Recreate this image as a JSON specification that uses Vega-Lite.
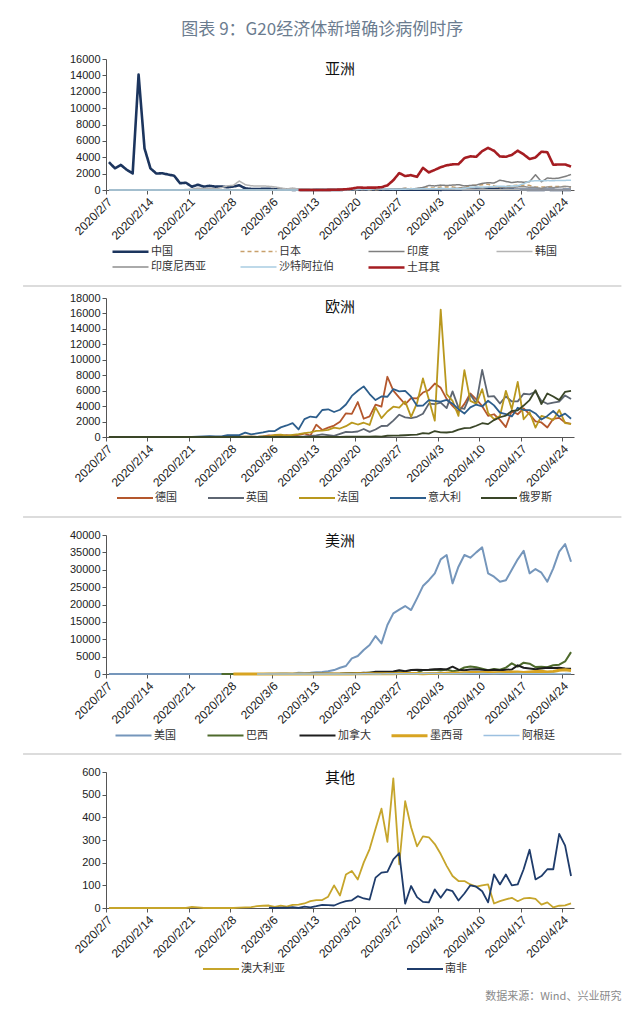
{
"$schema":"https://vega.github.io/schema/vega-lite/v6.json",
"background":"white",
"padding":{"left":22,"top":21,"right":5,"bottom":5},
"title":{"text":"图表 9：G20经济体新增确诊病例时序","fontSize":17,"color":"#6b7c8f","font":"Noto Sans CJK SC","fontWeight":"normal","anchor":"middle","offset":14},
"resolve":{"scale":{"color":"independent","strokeDash":"independent","strokeWidth":"independent"},"legend":{"color":"independent","strokeDash":"independent","strokeWidth":"independent"}},
"config":{
 "font":"Liberation Sans",
 "view":{"stroke":null},
 "axis":{"grid":false,"domainColor":"#555","tickColor":"#555","labelColor":"#222","labelFontSize":11,"tickSize":4,"labelFont":"Liberation Sans"},
 "axisX":{"labelAngle":-45,"labelPadding":2,"labelFlush":false,"labelOverlap":false,"labelFontSize":12},
 "legend":{"orient":"bottom","direction":"horizontal","symbolType":"M-3,0H3","symbolSize":144,"labelFont":"Noto Sans CJK SC","labelFontSize":11,"labelColor":"#333","gridAlign":"all","rowPadding":3,"labelOffset":13,"padding":0,"offset":2,"layout":{"bottom":{"anchor":"middle","bounds":"full"}}},
 "concat":{"spacing":12},
 "line":{"strokeJoin":"round"}
},
"datasets":{
"asia":[
{"d":"2020/2/7","中国":3399,"日本":0,"印度":0,"韩国":1,"印度尼西亚":0,"沙特阿拉伯":0},
{"d":"2020/2/8","中国":2656,"日本":0,"印度":0,"韩国":0,"印度尼西亚":0,"沙特阿拉伯":0},
{"d":"2020/2/9","中国":3062,"日本":0,"印度":0,"韩国":3,"印度尼西亚":0,"沙特阿拉伯":0},
{"d":"2020/2/10","中国":2478,"日本":0,"印度":0,"韩国":0,"印度尼西亚":0,"沙特阿拉伯":0},
{"d":"2020/2/11","中国":2015,"日本":1,"印度":0,"韩国":0,"印度尼西亚":0,"沙特阿拉伯":0},
{"d":"2020/2/12","中国":14108,"日本":0,"印度":0,"韩国":0,"印度尼西亚":0,"沙特阿拉伯":0},
{"d":"2020/2/13","中国":5090,"日本":4,"印度":0,"韩国":0,"印度尼西亚":0,"沙特阿拉伯":0},
{"d":"2020/2/14","中国":2641,"日本":8,"印度":0,"韩国":0,"印度尼西亚":0,"沙特阿拉伯":0},
{"d":"2020/2/15","中国":2009,"日本":12,"印度":0,"韩国":0,"印度尼西亚":0,"沙特阿拉伯":0},
{"d":"2020/2/16","中国":2048,"日本":6,"印度":0,"韩国":1,"印度尼西亚":0,"沙特阿拉伯":0},
{"d":"2020/2/17","中国":1886,"日本":6,"印度":0,"韩国":1,"印度尼西亚":0,"沙特阿拉伯":0},
{"d":"2020/2/18","中国":1749,"日本":6,"印度":0,"韩国":1,"印度尼西亚":0,"沙特阿拉伯":0},
{"d":"2020/2/19","中国":820,"日本":3,"印度":0,"韩国":20,"印度尼西亚":0,"沙特阿拉伯":0},
{"d":"2020/2/20","中国":889,"日本":11,"印度":0,"韩国":53,"印度尼西亚":0,"沙特阿拉伯":0},
{"d":"2020/2/21","中国":397,"日本":10,"印度":0,"韩国":100,"印度尼西亚":0,"沙特阿拉伯":0},
{"d":"2020/2/22","中国":648,"日本":12,"印度":0,"韩国":229,"印度尼西亚":0,"沙特阿拉伯":0},
{"d":"2020/2/23","中国":409,"日本":15,"印度":0,"韩国":169,"印度尼西亚":0,"沙特阿拉伯":0},
{"d":"2020/2/24","中国":508,"日本":10,"印度":0,"韩国":231,"印度尼西亚":0,"沙特阿拉伯":0},
{"d":"2020/2/25","中国":406,"日本":13,"印度":0,"韩国":144,"印度尼西亚":0,"沙特阿拉伯":0},
{"d":"2020/2/26","中国":433,"日本":25,"印度":0,"韩国":284,"印度尼西亚":0,"沙特阿拉伯":0},
{"d":"2020/2/27","中国":327,"日本":21,"印度":0,"韩国":505,"印度尼西亚":0,"沙特阿拉伯":0},
{"d":"2020/2/28","中国":427,"日本":24,"印度":0,"韩国":571,"印度尼西亚":0,"沙特阿拉伯":0},
{"d":"2020/2/29","中国":573,"日本":15,"印度":0,"韩国":1100,"印度尼西亚":0,"沙特阿拉伯":0},
{"d":"2020/3/1","中国":202,"日本":14,"印度":0,"韩国":650,"印度尼西亚":0,"沙特阿拉伯":0},
{"d":"2020/3/2","中国":125,"日本":16,"印度":2,"韩国":520,"印度尼西亚":2,"沙特阿拉伯":0},
{"d":"2020/3/3","中国":119,"日本":14,"印度":1,"韩国":480,"印度尼西亚":0,"沙特阿拉伯":1},
{"d":"2020/3/4","中国":139,"日本":33,"印度":22,"韩国":500,"印度尼西亚":0,"沙特阿拉伯":0},
{"d":"2020/3/5","中国":143,"日本":32,"印度":2,"韩国":450,"印度尼西亚":0,"沙特阿拉伯":0},
{"d":"2020/3/6","中国":99,"日本":59,"印度":1,"韩国":380,"印度尼西亚":2,"沙特阿拉伯":4},
{"d":"2020/3/7","中国":44,"日本":47,"印度":3,"韩国":250,"印度尼西亚":0,"沙特阿拉伯":0},
{"d":"2020/3/8","中国":40,"日本":33,"印度":5,"韩国":130,"印度尼西亚":2,"沙特阿拉伯":6},
{"d":"2020/3/9","中国":19,"日本":26,"印度":4,"韩国":240,"印度尼西亚":13,"沙特阿拉伯":4},
{"d":"2020/3/10","中国":24,"日本":54,"印度":4,"韩国":114,"印度尼西亚":8,"沙特阿拉伯":5,"土耳其":0},
{"d":"2020/3/11","中国":15,"日本":52,"印度":12,"韩国":110,"印度尼西亚":7,"沙特阿拉伯":24,"土耳其":1},
{"d":"2020/3/12","中国":8,"日本":55,"印度":13,"韩国":107,"印度尼西亚":0,"沙特阿拉伯":0,"土耳其":0},
{"d":"2020/3/13","中国":11,"日本":41,"印度":14,"韩国":76,"印度尼西亚":35,"沙特阿拉伯":41,"土耳其":4},
{"d":"2020/3/14","中国":20,"日本":64,"印度":20,"韩国":74,"印度尼西亚":27,"沙特阿拉伯":17,"土耳其":0},
{"d":"2020/3/15","中国":16,"日本":34,"印度":26,"韩国":84,"印度尼西亚":21,"沙特阿拉伯":15,"土耳其":12},
{"d":"2020/3/16","中国":21,"日本":15,"印度":15,"韩国":93,"印度尼西亚":17,"沙特阿拉伯":38,"土耳其":29},
{"d":"2020/3/17","中国":13,"日本":44,"印度":28,"韩国":152,"印度尼西亚":38,"沙特阿拉伯":67,"土耳其":51},
{"d":"2020/3/18","中国":34,"日本":39,"印度":25,"韩国":87,"印度尼西亚":55,"沙特阿拉伯":36,"土耳其":93},
{"d":"2020/3/19","中国":39,"日本":35,"印度":44,"韩国":147,"印度尼西亚":82,"沙特阿拉伯":70,"土耳其":168},
{"d":"2020/3/20","中国":41,"日本":52,"印度":60,"韩国":98,"印度尼西亚":60,"沙特阿拉伯":70,"土耳其":311},
{"d":"2020/3/21","中国":46,"日本":52,"印度":80,"韩国":64,"印度尼西亚":81,"沙特阿拉伯":119,"土耳其":277},
{"d":"2020/3/22","中国":39,"日本":43,"印度":95,"韩国":76,"印度尼西亚":64,"沙特阿拉伯":51,"土耳其":289},
{"d":"2020/3/23","中国":78,"日本":39,"印度":100,"韩国":100,"印度尼西亚":65,"沙特阿拉伯":205,"土耳其":293},
{"d":"2020/3/24","中国":47,"日本":65,"印度":82,"韩国":104,"印度尼西亚":107,"沙特阿拉伯":133,"土耳其":343},
{"d":"2020/3/25","中国":67,"日本":96,"印度":95,"韩国":91,"印度尼西亚":105,"沙特阿拉伯":112,"土耳其":561},
{"d":"2020/3/26","中国":55,"日本":94,"印度":75,"韩国":146,"印度尼西亚":103,"沙特阿拉伯":92,"土耳其":1196},
{"d":"2020/3/27","中国":54,"日本":112,"印度":150,"韩国":105,"印度尼西亚":153,"沙特阿拉伯":99,"土耳其":2069},
{"d":"2020/3/28","中国":45,"日本":200,"印度":180,"韩国":78,"印度尼西亚":109,"沙特阿拉伯":96,"土耳其":1704},
{"d":"2020/3/29","中国":31,"日本":173,"印度":100,"韩国":125,"印度尼西亚":130,"沙特阿拉伯":154,"土耳其":1815},
{"d":"2020/3/30","中国":48,"日本":87,"印度":200,"韩国":101,"印度尼西亚":129,"沙特阿拉伯":110,"土耳其":1610},
{"d":"2020/3/31","中国":36,"日本":220,"印度":300,"韩国":89,"印度尼西亚":114,"沙特阿拉伯":157,"土耳其":2704},
{"d":"2020/4/1","中国":35,"日本":266,"印度":550,"韩国":86,"印度尼西亚":149,"沙特阿拉伯":165,"土耳其":2148},
{"d":"2020/4/2","中国":31,"日本":235,"印度":500,"韩国":94,"印度尼西亚":113,"沙特阿拉伯":140,"土耳其":2456},
{"d":"2020/4/3","中国":19,"日本":353,"印度":600,"韩国":81,"印度尼西亚":196,"沙特阿拉伯":206,"土耳其":2786},
{"d":"2020/4/4","中国":30,"日本":367,"印度":550,"韩国":47,"印度尼西亚":106,"沙特阿拉伯":138,"土耳其":3013},
{"d":"2020/4/5","中国":39,"日本":383,"印度":600,"韩国":47,"印度尼西亚":181,"沙特阿拉伯":190,"土耳其":3135},
{"d":"2020/4/6","中国":32,"日本":252,"印度":650,"韩国":53,"印度尼西亚":218,"沙特阿拉伯":140,"土耳其":3148},
{"d":"2020/4/7","中国":62,"日本":351,"印度":500,"韩国":39,"印度尼西亚":247,"沙特阿拉伯":190,"土耳其":3892},
{"d":"2020/4/8","中国":63,"日本":515,"印度":550,"韩国":27,"印度尼西亚":218,"沙特阿拉伯":327,"土耳其":4117},
{"d":"2020/4/9","中国":42,"日本":576,"印度":600,"韩国":30,"印度尼西亚":337,"沙特阿拉伯":355,"土耳其":4056},
{"d":"2020/4/10","中国":46,"日本":644,"印度":800,"韩国":32,"印度尼西亚":219,"沙特阿拉伯":364,"土耳其":4747},
{"d":"2020/4/11","中国":99,"日本":714,"印度":900,"韩国":25,"印度尼西亚":330,"沙特阿拉伯":382,"土耳其":5138},
{"d":"2020/4/12","中国":108,"日本":507,"印度":850,"韩国":27,"印度尼西亚":399,"沙特阿拉伯":429,"土耳其":4789},
{"d":"2020/4/13","中国":89,"日本":283,"印度":1200,"韩国":27,"印度尼西亚":316,"沙特阿拉伯":472,"土耳其":4093},
{"d":"2020/4/14","中国":46,"日本":457,"印度":1050,"韩国":22,"印度尼西亚":282,"沙特阿拉伯":435,"土耳其":4062},
{"d":"2020/4/15","中国":46,"日本":549,"印度":900,"韩国":22,"印度尼西亚":297,"沙特阿拉伯":493,"土耳其":4281},
{"d":"2020/4/16","中国":26,"日本":587,"印度":1000,"韩国":18,"印度尼西亚":380,"沙特阿拉伯":518,"土耳其":4801},
{"d":"2020/4/17","中国":27,"日本":576,"印度":950,"韩国":8,"印度尼西亚":407,"沙特阿拉伯":762,"土耳其":4353},
{"d":"2020/4/18","中国":16,"日本":568,"印度":1000,"韩国":13,"印度尼西亚":325,"沙特阿拉伯":1088,"土耳其":3783},
{"d":"2020/4/19","中国":12,"日本":351,"印度":1870,"韩国":9,"印度尼西亚":327,"沙特阿拉伯":1122,"土耳其":3977},
{"d":"2020/4/20","中国":11,"日本":363,"印度":1000,"韩国":11,"印度尼西亚":185,"沙特阿拉伯":1132,"土耳其":4674},
{"d":"2020/4/21","中国":30,"日本":376,"印度":1460,"韩国":8,"印度尼西亚":375,"沙特阿拉伯":1147,"土耳其":4611},
{"d":"2020/4/22","中国":10,"日本":450,"印度":1400,"韩国":6,"印度尼西亚":283,"沙特阿拉伯":1141,"土耳其":3083},
{"d":"2020/4/23","中国":6,"日本":422,"印度":1460,"韩国":10,"印度尼西亚":357,"沙特阿拉伯":1158,"土耳其":3116},
{"d":"2020/4/24","中国":12,"日本":440,"印度":1650,"韩国":10,"印度尼西亚":436,"沙特阿拉伯":1172,"土耳其":3122},
{"d":"2020/4/25","中国":11,"日本":345,"印度":1900,"韩国":10,"印度尼西亚":396,"沙特阿拉伯":1197,"土耳其":2861}
],
"europe":[
{"d":"2020/2/7","德国":1,"英国":0,"法国":0,"意大利":0,"俄罗斯":0},
{"d":"2020/2/8","德国":0,"英国":0,"法国":0,"意大利":0,"俄罗斯":0},
{"d":"2020/2/9","德国":0,"英国":0,"法国":0,"意大利":0,"俄罗斯":0},
{"d":"2020/2/10","德国":0,"英国":0,"法国":0,"意大利":0,"俄罗斯":0},
{"d":"2020/2/11","德国":0,"英国":0,"法国":0,"意大利":0,"俄罗斯":0},
{"d":"2020/2/12","德国":0,"英国":0,"法国":0,"意大利":0,"俄罗斯":0},
{"d":"2020/2/13","德国":0,"英国":0,"法国":0,"意大利":0,"俄罗斯":0},
{"d":"2020/2/14","德国":0,"英国":0,"法国":0,"意大利":0,"俄罗斯":0},
{"d":"2020/2/15","德国":0,"英国":0,"法国":0,"意大利":0,"俄罗斯":0},
{"d":"2020/2/16","德国":0,"英国":0,"法国":0,"意大利":0,"俄罗斯":0},
{"d":"2020/2/17","德国":0,"英国":0,"法国":0,"意大利":0,"俄罗斯":0},
{"d":"2020/2/18","德国":0,"英国":0,"法国":0,"意大利":0,"俄罗斯":0},
{"d":"2020/2/19","德国":0,"英国":0,"法国":0,"意大利":0,"俄罗斯":0},
{"d":"2020/2/20","德国":0,"英国":0,"法国":0,"意大利":0,"俄罗斯":0},
{"d":"2020/2/21","德国":0,"英国":0,"法国":0,"意大利":17,"俄罗斯":0},
{"d":"2020/2/22","德国":0,"英国":0,"法国":0,"意大利":59,"俄罗斯":0},
{"d":"2020/2/23","德国":0,"英国":0,"法国":0,"意大利":76,"俄罗斯":0},
{"d":"2020/2/24","德国":0,"英国":0,"法国":0,"意大利":95,"俄罗斯":0},
{"d":"2020/2/25","德国":2,"英国":0,"法国":0,"意大利":93,"俄罗斯":0},
{"d":"2020/2/26","德国":6,"英国":0,"法国":4,"意大利":78,"俄罗斯":0},
{"d":"2020/2/27","德国":28,"英国":2,"法国":20,"意大利":250,"俄罗斯":0},
{"d":"2020/2/28","德国":21,"英国":0,"法国":19,"意大利":238,"俄罗斯":0},
{"d":"2020/2/29","德国":13,"英国":3,"法国":43,"意大利":240,"俄罗斯":0},
{"d":"2020/3/1","德国":57,"英国":12,"法国":30,"意大利":566,"俄罗斯":0},
{"d":"2020/3/2","德国":30,"英国":4,"法国":61,"意大利":342,"俄罗斯":0},
{"d":"2020/3/3","德国":29,"英国":11,"法国":13,"意大利":466,"俄罗斯":0},
{"d":"2020/3/4","德国":66,"英国":34,"法国":81,"意大利":587,"俄罗斯":0},
{"d":"2020/3/5","德国":220,"英国":30,"法国":92,"意大利":769,"俄罗斯":0},
{"d":"2020/3/6","德国":188,"英国":48,"法国":276,"意大利":778,"俄罗斯":0},
{"d":"2020/3/7","德国":129,"英国":43,"法国":296,"意大利":1247,"俄罗斯":0},
{"d":"2020/3/8","德国":241,"英国":67,"法国":177,"意大利":1492,"俄罗斯":0},
{"d":"2020/3/9","德国":136,"英国":48,"法国":286,"意大利":1797,"俄罗斯":0},
{"d":"2020/3/10","德国":281,"英国":61,"法国":372,"意大利":977,"俄罗斯":0},
{"d":"2020/3/11","德国":451,"英国":83,"法国":497,"意大利":2313,"俄罗斯":8},
{"d":"2020/3/12","德国":170,"英国":134,"法国":595,"意大利":2651,"俄罗斯":6},
{"d":"2020/3/13","德国":1597,"英国":208,"法国":785,"意大利":2547,"俄罗斯":17},
{"d":"2020/3/14","德国":910,"英国":342,"法国":838,"意大利":3497,"俄罗斯":4},
{"d":"2020/3/15","德国":1210,"英国":251,"法国":924,"意大利":3590,"俄罗斯":31},
{"d":"2020/3/16","德国":1477,"英国":152,"法国":1210,"意大利":3233,"俄罗斯":27},
{"d":"2020/3/17","德国":1985,"英国":407,"法国":1097,"意大利":3526,"俄罗斯":21},
{"d":"2020/3/18","德国":3070,"英国":676,"法国":1404,"意大利":4207,"俄罗斯":33},
{"d":"2020/3/19","德国":2993,"英国":643,"法国":1861,"意大利":5322,"俄罗斯":52},
{"d":"2020/3/20","德国":4528,"英国":714,"法国":1617,"意大利":5986,"俄罗斯":54},
{"d":"2020/3/21","德国":2365,"英国":1035,"法国":1847,"意大利":6557,"俄罗斯":53},
{"d":"2020/3/22","德国":2660,"英国":665,"法国":1559,"意大利":5560,"俄罗斯":61},
{"d":"2020/3/23","德国":4183,"英国":967,"法国":3838,"意大利":4789,"俄罗斯":71},
{"d":"2020/3/24","德国":3930,"英国":1427,"法国":2446,"意大利":5249,"俄罗斯":57},
{"d":"2020/3/25","德国":7800,"英国":1452,"法国":3300,"意大利":5210,"俄罗斯":163},
{"d":"2020/3/26","德国":6000,"英国":2129,"法国":3922,"意大利":6203,"俄罗斯":182},
{"d":"2020/3/27","德国":5100,"英国":2885,"法国":3809,"意大利":5909,"俄罗斯":196},
{"d":"2020/3/28","德国":4240,"英国":2546,"法国":4611,"意大利":5974,"俄罗斯":228},
{"d":"2020/3/29","德国":5020,"英国":2433,"法国":2599,"意大利":5217,"俄罗斯":270},
{"d":"2020/3/30","德国":5000,"英国":2619,"法国":4376,"意大利":4050,"俄罗斯":302},
{"d":"2020/3/31","德国":5760,"英国":3009,"法国":7578,"意大利":4053,"俄罗斯":501},
{"d":"2020/4/1","德国":6064,"英国":4324,"法国":4861,"意大利":4782,"俄罗斯":440},
{"d":"2020/4/2","德国":6922,"英国":4244,"法国":2116,"意大利":4668,"俄罗斯":771},
{"d":"2020/4/3","德国":6365,"英国":4450,"法国":16500,"意大利":4585,"俄罗斯":601},
{"d":"2020/4/4","德国":4933,"英国":3735,"法国":5540,"意大利":4805,"俄罗斯":582},
{"d":"2020/4/5","德国":4031,"英国":5903,"法国":4680,"意大利":4316,"俄罗斯":658},
{"d":"2020/4/6","德国":3251,"英国":3802,"法国":2730,"意大利":3599,"俄罗斯":954},
{"d":"2020/4/7","德国":4289,"英国":3634,"法国":8660,"意大利":3039,"俄罗斯":1154},
{"d":"2020/4/8","德国":5633,"英国":5491,"法国":4680,"意大利":3836,"俄罗斯":1175},
{"d":"2020/4/9","德国":4885,"英国":4344,"法国":4300,"意大利":4204,"俄罗斯":1459},
{"d":"2020/4/10","德国":3990,"英国":8681,"法国":6200,"意大利":3951,"俄罗斯":1786},
{"d":"2020/4/11","德国":2737,"英国":5233,"法国":3100,"意大利":4694,"俄罗斯":1667},
{"d":"2020/4/12","德国":2946,"英国":5288,"法国":2300,"意大利":4092,"俄罗斯":2186},
{"d":"2020/4/13","德国":2218,"英国":4342,"法国":2700,"意大利":3153,"俄罗斯":2558},
{"d":"2020/4/14","德国":1287,"英国":5252,"法国":5980,"意大利":2972,"俄罗斯":2774},
{"d":"2020/4/15","德国":3394,"英国":4603,"法国":3600,"意大利":2667,"俄罗斯":3388},
{"d":"2020/4/16","德国":2945,"英国":4617,"法国":7140,"意大利":3786,"俄罗斯":3448},
{"d":"2020/4/17","德国":3699,"英国":5599,"法国":2300,"意大利":3493,"俄罗斯":4070},
{"d":"2020/4/18","德国":2945,"英国":5525,"法国":3200,"意大利":3491,"俄罗斯":4785},
{"d":"2020/4/19","德国":2018,"英国":5850,"法国":1210,"意大利":3047,"俄罗斯":6060},
{"d":"2020/4/20","德国":1881,"英国":4676,"法国":2730,"意大利":2256,"俄罗斯":4268},
{"d":"2020/4/21","德国":1226,"英国":4301,"法国":2500,"意大利":2729,"俄罗斯":5642},
{"d":"2020/4/22","德国":2357,"英国":4451,"法国":2200,"意大利":3370,"俄罗斯":5236},
{"d":"2020/4/23","德国":2481,"英国":4583,"法国":3500,"意大利":2646,"俄罗斯":4774},
{"d":"2020/4/24","德国":1870,"英国":5386,"法国":1800,"意大利":3021,"俄罗斯":5849},
{"d":"2020/4/25","德国":1700,"英国":4913,"法国":1700,"意大利":2357,"俄罗斯":5966}
],
"americas":[
{"d":"2020/2/7","美国":1},
{"d":"2020/2/8","美国":0},
{"d":"2020/2/9","美国":0},
{"d":"2020/2/10","美国":1},
{"d":"2020/2/11","美国":0},
{"d":"2020/2/12","美国":0},
{"d":"2020/2/13","美国":0},
{"d":"2020/2/14","美国":0},
{"d":"2020/2/15","美国":0},
{"d":"2020/2/16","美国":0},
{"d":"2020/2/17","美国":0},
{"d":"2020/2/18","美国":0},
{"d":"2020/2/19","美国":0},
{"d":"2020/2/20","美国":0},
{"d":"2020/2/21","美国":2},
{"d":"2020/2/22","美国":0},
{"d":"2020/2/23","美国":0},
{"d":"2020/2/24","美国":0},
{"d":"2020/2/25","美国":0},
{"d":"2020/2/26","美国":0,"巴西":1},
{"d":"2020/2/27","美国":0,"巴西":0},
{"d":"2020/2/28","美国":1,"巴西":0,"墨西哥":1},
{"d":"2020/2/29","美国":6,"巴西":1,"墨西哥":3},
{"d":"2020/3/1","美国":7,"巴西":0,"墨西哥":1},
{"d":"2020/3/2","美国":23,"巴西":1,"墨西哥":0},
{"d":"2020/3/3","美国":20,"巴西":0,"墨西哥":0,"阿根廷":1},
{"d":"2020/3/4","美国":31,"巴西":0,"墨西哥":0,"阿根廷":0},
{"d":"2020/3/5","美国":68,"巴西":0,"加拿大":8,"墨西哥":0,"阿根廷":0},
{"d":"2020/3/6","美国":45,"巴西":10,"加拿大":5,"墨西哥":1,"阿根廷":1},
{"d":"2020/3/7","美国":140,"巴西":6,"加拿大":6,"墨西哥":0,"阿根廷":6},
{"d":"2020/3/8","美国":116,"巴西":5,"加拿大":6,"墨西哥":0,"阿根廷":0},
{"d":"2020/3/9","美国":65,"巴西":5,"加拿大":4,"墨西哥":0,"阿根廷":5},
{"d":"2020/3/10","美国":376,"巴西":9,"加拿大":16,"墨西哥":0,"阿根廷":5},
{"d":"2020/3/11","美国":322,"巴西":18,"加拿大":24,"墨西哥":4,"阿根廷":2},
{"d":"2020/3/12","美国":382,"巴西":25,"加拿大":41,"墨西哥":4,"阿根廷":12},
{"d":"2020/3/13","美国":516,"巴西":21,"加拿大":55,"墨西哥":0,"阿根廷":3},
{"d":"2020/3/14","美国":548,"巴西":23,"加拿大":54,"墨西哥":14,"阿根廷":11},
{"d":"2020/3/15","美国":772,"巴西":79,"加拿大":56,"墨西哥":15,"阿根廷":11},
{"d":"2020/3/16","美国":1133,"巴西":34,"加拿大":97,"墨西哥":29,"阿根廷":9},
{"d":"2020/3/17","美国":1789,"巴西":57,"加拿大":103,"墨西哥":11,"阿根廷":14},
{"d":"2020/3/18","美国":2300,"巴西":137,"加拿大":126,"墨西哥":26,"阿根廷":14},
{"d":"2020/3/19","美国":4500,"巴西":193,"加拿大":167,"墨西哥":25,"阿根廷":31},
{"d":"2020/3/20","美国":5180,"巴西":283,"加拿大":196,"墨西哥":46,"阿根廷":30},
{"d":"2020/3/21","美国":6900,"巴西":224,"加拿大":341,"墨西哥":39,"阿根廷":67},
{"d":"2020/3/22","美国":8340,"巴西":418,"加拿大":289,"墨西哥":48,"阿根廷":41},
{"d":"2020/3/23","美国":10930,"巴西":345,"加拿大":662,"墨西哥":65,"阿根廷":35},
{"d":"2020/3/24","美国":8820,"巴西":310,"加拿大":613,"墨西哥":51,"阿根廷":36},
{"d":"2020/3/25","美国":14100,"巴西":232,"加拿大":622,"墨西哥":38,"阿根廷":86},
{"d":"2020/3/26","美国":17450,"巴西":482,"加拿大":738,"墨西哥":70,"阿根廷":87},
{"d":"2020/3/27","美国":18500,"巴西":502,"加拿大":1104,"墨西哥":110,"阿根廷":101},
{"d":"2020/3/28","美国":19560,"巴西":487,"加拿大":769,"墨西哥":132,"阿根廷":55},
{"d":"2020/3/29","美国":18400,"巴西":352,"加拿大":1123,"墨西哥":131,"阿根廷":75},
{"d":"2020/3/30","美国":21770,"巴西":323,"加拿大":1201,"墨西哥":145,"阿根廷":63},
{"d":"2020/3/31","美国":25300,"巴西":1138,"加拿大":1149,"墨西哥":101,"阿根廷":146},
{"d":"2020/4/1","美国":27000,"巴西":1119,"加拿大":1233,"墨西哥":121,"阿根廷":167},
{"d":"2020/4/2","美国":28960,"巴西":1208,"加拿大":1383,"墨西哥":163,"阿根廷":115},
{"d":"2020/4/3","美国":33000,"巴西":1012,"加拿大":1416,"墨西哥":178,"阿根廷":79},
{"d":"2020/4/4","美国":34240,"巴西":1304,"加拿大":1311,"墨西哥":252,"阿根廷":102},
{"d":"2020/4/5","美国":26080,"巴西":770,"加拿大":2100,"墨西哥":202,"阿根廷":90},
{"d":"2020/4/6","美国":30880,"巴西":1031,"加拿大":1250,"墨西哥":296,"阿根廷":75},
{"d":"2020/4/7","美国":34240,"巴西":1873,"加拿大":1100,"墨西哥":338,"阿根廷":141},
{"d":"2020/4/8","美国":33470,"巴西":2136,"加拿大":1300,"墨西哥":396,"阿根廷":98},
{"d":"2020/4/9","美国":35000,"巴西":1922,"加拿大":1400,"墨西哥":420,"阿根廷":87},
{"d":"2020/4/10","美国":36440,"巴西":1546,"加拿大":1200,"墨西哥":450,"阿根廷":119},
{"d":"2020/4/11","美国":28960,"巴西":1089,"加拿大":1100,"墨西哥":442,"阿根廷":81},
{"d":"2020/4/12","美国":28000,"巴西":1465,"加拿大":1200,"墨西哥":353,"阿根廷":69},
{"d":"2020/4/13","美国":26560,"巴西":1238,"加拿大":1100,"墨西哥":450,"阿根廷":140},
{"d":"2020/4/14","美国":27000,"巴西":1832,"加拿大":1200,"墨西哥":500,"阿根廷":61},
{"d":"2020/4/15","美国":30000,"巴西":3058,"加拿大":1300,"墨西哥":600,"阿根廷":105},
{"d":"2020/4/16","美国":33000,"巴西":2105,"加拿大":2500,"墨西哥":550,"阿根廷":111},
{"d":"2020/4/17","美国":35480,"巴西":3257,"加拿大":1800,"墨西哥":450,"阿根廷":69},
{"d":"2020/4/18","美国":28960,"巴西":2976,"加拿大":1600,"墨西哥":600,"阿根廷":79},
{"d":"2020/4/19","美国":30200,"巴西":1996,"加拿大":1400,"墨西哥":750,"阿根廷":85},
{"d":"2020/4/20","美国":29150,"巴西":2089,"加拿大":1600,"墨西哥":760,"阿根廷":102},
{"d":"2020/4/21","美国":26560,"巴西":1927,"加拿大":1800,"墨西哥":600,"阿根廷":100},
{"d":"2020/4/22","美国":30400,"巴西":2498,"加拿大":1700,"墨西哥":730,"阿根廷":145},
{"d":"2020/4/23","美国":35200,"巴西":2678,"加拿大":1800,"墨西哥":1100,"阿根廷":100},
{"d":"2020/4/24","美国":37400,"巴西":3600,"加拿大":1600,"墨西哥":1200,"阿根廷":111},
{"d":"2020/4/25","美国":32300,"巴西":6300,"加拿大":1500,"墨西哥":1000,"阿根廷":172}
],
"other":[
{"d":"2020/2/7","澳大利亚":0},{"d":"2020/2/8","澳大利亚":0},{"d":"2020/2/9","澳大利亚":0},{"d":"2020/2/10","澳大利亚":0},
{"d":"2020/2/11","澳大利亚":0},{"d":"2020/2/12","澳大利亚":0},{"d":"2020/2/13","澳大利亚":0},{"d":"2020/2/14","澳大利亚":0},
{"d":"2020/2/15","澳大利亚":0},{"d":"2020/2/16","澳大利亚":0},{"d":"2020/2/17","澳大利亚":0},{"d":"2020/2/18","澳大利亚":0},
{"d":"2020/2/19","澳大利亚":0},{"d":"2020/2/20","澳大利亚":0},{"d":"2020/2/21","澳大利亚":5},{"d":"2020/2/22","澳大利亚":3},
{"d":"2020/2/23","澳大利亚":0},{"d":"2020/2/24","澳大利亚":0},{"d":"2020/2/25","澳大利亚":0},{"d":"2020/2/26","澳大利亚":0},
{"d":"2020/2/27","澳大利亚":0},{"d":"2020/2/28","澳大利亚":0},{"d":"2020/2/29","澳大利亚":2},{"d":"2020/3/1","澳大利亚":3},
{"d":"2020/3/2","澳大利亚":4},{"d":"2020/3/3","澳大利亚":8},{"d":"2020/3/4","澳大利亚":10},
{"d":"2020/3/5","澳大利亚":11,"南非":1},{"d":"2020/3/6","澳大利亚":5,"南非":0},{"d":"2020/3/7","澳大利亚":10,"南非":1},
{"d":"2020/3/8","澳大利亚":6,"南非":1},{"d":"2020/3/9","澳大利亚":14,"南非":4},{"d":"2020/3/10","澳大利亚":15,"南非":0},
{"d":"2020/3/11","澳大利亚":20,"南非":6},{"d":"2020/3/12","澳大利亚":30,"南非":3},{"d":"2020/3/13","澳大利亚":35,"南非":8},
{"d":"2020/3/14","澳大利亚":35,"南非":14},{"d":"2020/3/15","澳大利亚":50,"南非":13},{"d":"2020/3/16","澳大利亚":100,"南非":11},
{"d":"2020/3/17","澳大利亚":55,"南非":22},{"d":"2020/3/18","澳大利亚":148,"南非":30},{"d":"2020/3/19","澳大利亚":163,"南非":34},
{"d":"2020/3/20","澳大利亚":126,"南非":52},{"d":"2020/3/21","澳大利亚":200,"南非":42},{"d":"2020/3/22","澳大利亚":260,"南非":37},
{"d":"2020/3/23","澳大利亚":350,"南非":134},{"d":"2020/3/24","澳大利亚":438,"南非":156},{"d":"2020/3/25","澳大利亚":292,"南非":159},
{"d":"2020/3/26","澳大利亚":572,"南非":215},{"d":"2020/3/27","澳大利亚":193,"南非":242},{"d":"2020/3/28","澳大利亚":471,"南非":19},
{"d":"2020/3/29","澳大利亚":356,"南非":97},{"d":"2020/3/30","澳大利亚":272,"南非":48},{"d":"2020/3/31","澳大利亚":316,"南非":27},
{"d":"2020/4/1","澳大利亚":312,"南非":25},{"d":"2020/4/2","澳大利亚":282,"南非":82},{"d":"2020/4/3","澳大利亚":238,"南非":45},
{"d":"2020/4/4","澳大利亚":186,"南非":82},{"d":"2020/4/5","澳大利亚":141,"南非":74},{"d":"2020/4/6","澳大利亚":119,"南非":33},
{"d":"2020/4/7","澳大利亚":119,"南非":64},{"d":"2020/4/8","澳大利亚":104,"南非":100},{"d":"2020/4/9","澳大利亚":94,"南非":94},
{"d":"2020/4/10","澳大利亚":100,"南非":74},{"d":"2020/4/11","澳大利亚":104,"南非":25},{"d":"2020/4/12","澳大利亚":20,"南非":148},
{"d":"2020/4/13","澳大利亚":30,"南非":104},{"d":"2020/4/14","澳大利亚":38,"南非":148},{"d":"2020/4/15","澳大利亚":45,"南非":100},
{"d":"2020/4/16","澳大利亚":30,"南非":104},{"d":"2020/4/17","澳大利亚":42,"南非":171},{"d":"2020/4/18","澳大利亚":45,"南非":257},
{"d":"2020/4/19","澳大利亚":40,"南非":126},{"d":"2020/4/20","澳大利亚":15,"南非":141},{"d":"2020/4/21","澳大利亚":25,"南非":171},
{"d":"2020/4/22","澳大利亚":3,"南非":171},{"d":"2020/4/23","澳大利亚":10,"南非":327},{"d":"2020/4/24","澳大利亚":12,"南非":275},
{"d":"2020/4/25","澳大利亚":20,"南非":141}
]
},
"vconcat":[
{
 "width":468,"height":131,
 "title":{"text":"亚洲","offset":-24,"fontSize":15,"font":"Noto Sans CJK SC","fontWeight":"normal","color":"#111"},
 "layer":[
  {"data":{"name":"asia"},
   "transform":[{"fold":["中国","日本","印度","韩国","印度尼西亚","沙特阿拉伯","土耳其"],"as":["country","value"]}],
   "mark":{"type":"line"},
   "encoding":{
    "x":{"field":"d","type":"temporal","timeUnit":"yearmonthdate","bandPosition":0.5,"title":null,
     "scale":{"domain":[{"year":2020,"month":2,"date":7},{"year":2020,"month":4,"date":26}]},
     "axis":{"format":"%Y/%-m/%-d","values":[{"year":2020,"month":2,"date":7},{"year":2020,"month":2,"date":14},{"year":2020,"month":2,"date":21},{"year":2020,"month":2,"date":28},{"year":2020,"month":3,"date":6},{"year":2020,"month":3,"date":13},{"year":2020,"month":3,"date":20},{"year":2020,"month":3,"date":27},{"year":2020,"month":4,"date":3},{"year":2020,"month":4,"date":10},{"year":2020,"month":4,"date":17},{"year":2020,"month":4,"date":24}]}},
    "y":{"field":"value","type":"quantitative","title":null,"scale":{"domain":[0,16000]},"axis":{"values":[0,2000,4000,6000,8000,10000,12000,14000,16000],"format":"d"}},
    "color":{"field":"country","type":"nominal","scale":{"domain":["中国","日本","印度","韩国","印度尼西亚","沙特阿拉伯","土耳其"],"range":["#1c355e","#c8a06b","#7f7f7f","#b4b4b4","#8e8e8e","#a9cde2","#a51d22"]},"legend":{"title":null,"columns":4,"columnPadding":33}},
    "strokeDash":{"field":"country","type":"nominal","scale":{"domain":["中国","日本","印度","韩国","印度尼西亚","沙特阿拉伯","土耳其"],"range":[[1,0],[4,3],[1,0],[1,0],[1,0],[1,0],[1,0]]},"legend":{"title":null,"columns":4,"columnPadding":33}},
    "strokeWidth":{"field":"country","type":"nominal","scale":{"type":"ordinal","domain":["中国","日本","印度","韩国","印度尼西亚","沙特阿拉伯","土耳其"],"range":[2.6,1.5,1.5,1.5,1.5,1.5,2.6]},"legend":{"title":null,"columns":4,"columnPadding":33}}
   }},
  {"data":{"values":[{}]},"mark":{"type":"rule","strokeOpacity":0},
   "encoding":{"x":{"datum":{"year":2020,"month":1,"date":24},"type":"temporal"},"x2":{"datum":{"year":2020,"month":5,"date":4}},
    "y":{"datum":0,"type":"quantitative","axis":{"values":[0,2000,4000,6000,8000,10000,12000,14000,16000],"format":"d"}}}}
 ]
},
{
 "width":468,"height":139,
 "title":{"text":"欧洲","offset":-30,"fontSize":15,"font":"Noto Sans CJK SC","fontWeight":"normal","color":"#111"},
 "layer":[
  {"data":{"name":"europe"},
   "transform":[{"fold":["德国","英国","法国","意大利","俄罗斯"],"as":["country","value"]}],
   "mark":{"type":"line","strokeWidth":1.8},
   "encoding":{
    "x":{"field":"d","type":"temporal","timeUnit":"yearmonthdate","bandPosition":0.5,"title":null,
     "scale":{"domain":[{"year":2020,"month":2,"date":7},{"year":2020,"month":4,"date":26}]},
     "axis":{"format":"%Y/%-m/%-d","values":[{"year":2020,"month":2,"date":7},{"year":2020,"month":2,"date":14},{"year":2020,"month":2,"date":21},{"year":2020,"month":2,"date":28},{"year":2020,"month":3,"date":6},{"year":2020,"month":3,"date":13},{"year":2020,"month":3,"date":20},{"year":2020,"month":3,"date":27},{"year":2020,"month":4,"date":3},{"year":2020,"month":4,"date":10},{"year":2020,"month":4,"date":17},{"year":2020,"month":4,"date":24}]}},
    "y":{"field":"value","type":"quantitative","title":null,"scale":{"domain":[0,18000]},"axis":{"values":[0,2000,4000,6000,8000,10000,12000,14000,16000,18000],"format":"d"}},
    "color":{"field":"country","type":"nominal","scale":{"domain":["德国","英国","法国","意大利","俄罗斯"],"range":["#b4572d","#5e6672","#b9981e","#2d5e8c","#3a4628"]},"legend":{"title":null,"columns":5,"columnPadding":19,"symbolStrokeWidth":1.8}}
   }},
  {"data":{"values":[{}]},"mark":{"type":"rule","color":"#dcdcdc","strokeWidth":2},
   "encoding":{"x":{"datum":{"year":2020,"month":1,"date":24},"type":"temporal"},"x2":{"datum":{"year":2020,"month":5,"date":4}},
    "y":{"datum":19550,"type":"quantitative","axis":{"values":[0,2000,4000,6000,8000,10000,12000,14000,16000,18000],"format":"d"}}}}
 ]
},
{
 "width":468,"height":139,
 "title":{"text":"美洲","offset":-33,"fontSize":15,"font":"Noto Sans CJK SC","fontWeight":"normal","color":"#111"},
 "layer":[
  {"data":{"name":"americas"},
   "transform":[{"fold":["美国","巴西","加拿大","墨西哥","阿根廷"],"as":["country","value"]}],
   "mark":{"type":"line"},
   "encoding":{
    "x":{"field":"d","type":"temporal","timeUnit":"yearmonthdate","bandPosition":0.5,"title":null,
     "scale":{"domain":[{"year":2020,"month":2,"date":7},{"year":2020,"month":4,"date":26}]},
     "axis":{"format":"%Y/%-m/%-d","values":[{"year":2020,"month":2,"date":7},{"year":2020,"month":2,"date":14},{"year":2020,"month":2,"date":21},{"year":2020,"month":2,"date":28},{"year":2020,"month":3,"date":6},{"year":2020,"month":3,"date":13},{"year":2020,"month":3,"date":20},{"year":2020,"month":3,"date":27},{"year":2020,"month":4,"date":3},{"year":2020,"month":4,"date":10},{"year":2020,"month":4,"date":17},{"year":2020,"month":4,"date":24}]}},
    "y":{"field":"value","type":"quantitative","title":null,"scale":{"domain":[0,40000]},"axis":{"values":[0,5000,10000,15000,20000,25000,30000,35000,40000],"format":"d"}},
    "color":{"field":"country","type":"nominal","scale":{"domain":["美国","巴西","加拿大","墨西哥","阿根廷"],"range":["#7596bb","#4e6a2c","#1e1e1e","#d8a422","#9cc0e0"]},"legend":{"title":null,"columns":5,"columnPadding":19}},
    "strokeWidth":{"field":"country","type":"nominal","scale":{"type":"ordinal","domain":["美国","巴西","加拿大","墨西哥","阿根廷"],"range":[2,2,2,3,1.5]},"legend":{"title":null,"columns":5,"columnPadding":19}}
   }},
  {"data":{"values":[{}]},"mark":{"type":"rule","color":"#dcdcdc","strokeWidth":2},
   "encoding":{"x":{"datum":{"year":2020,"month":1,"date":24},"type":"temporal"},"x2":{"datum":{"year":2020,"month":5,"date":4}},
    "y":{"datum":45180,"type":"quantitative","axis":{"values":[0,5000,10000,15000,20000,25000,30000,35000,40000],"format":"d"}}}}
 ]
},
{
 "width":468,"height":136,
 "title":{"text":"其他","offset":-33,"fontSize":15,"font":"Noto Sans CJK SC","fontWeight":"normal","color":"#111"},
 "layer":[
  {"data":{"name":"other"},
   "transform":[{"fold":["澳大利亚","南非"],"as":["country","value"]}],
   "mark":{"type":"line","strokeWidth":1.8},
   "encoding":{
    "x":{"field":"d","type":"temporal","timeUnit":"yearmonthdate","bandPosition":0.5,"title":null,
     "scale":{"domain":[{"year":2020,"month":2,"date":7},{"year":2020,"month":4,"date":26}]},
     "axis":{"format":"%Y/%-m/%-d","values":[{"year":2020,"month":2,"date":7},{"year":2020,"month":2,"date":14},{"year":2020,"month":2,"date":21},{"year":2020,"month":2,"date":28},{"year":2020,"month":3,"date":6},{"year":2020,"month":3,"date":13},{"year":2020,"month":3,"date":20},{"year":2020,"month":3,"date":27},{"year":2020,"month":4,"date":3},{"year":2020,"month":4,"date":10},{"year":2020,"month":4,"date":17},{"year":2020,"month":4,"date":24}]}},
    "y":{"field":"value","type":"quantitative","title":null,"scale":{"domain":[0,600]},"axis":{"values":[0,100,200,300,400,500,600],"format":"d"}},
    "color":{"field":"country","type":"nominal","scale":{"domain":["澳大利亚","南非"],"range":["#c6a52b","#1f3c6b"]},"legend":{"title":null,"columns":2,"columnPadding":121,"symbolStrokeWidth":1.8}}
   }},
  {"data":{"values":[{}]},"mark":{"type":"rule","color":"#dcdcdc","strokeWidth":2},
   "encoding":{"x":{"datum":{"year":2020,"month":1,"date":24},"type":"temporal"},"x2":{"datum":{"year":2020,"month":5,"date":4}},
    "y":{"datum":679,"type":"quantitative","axis":{"values":[0,100,200,300,400,500,600],"format":"d"}}}},
  {"data":{"values":[{}]},"mark":{"type":"text","align":"right","baseline":"middle","fontSize":11,"color":"#8a8a8a","font":"Noto Sans CJK SC"},
   "encoding":{"x":{"datum":{"year":2020,"month":5,"date":4},"type":"temporal"},"y":{"datum":-393,"type":"quantitative","axis":{"values":[0,100,200,300,400,500,600],"format":"d"}},"text":{"value":"数据来源：Wind、兴业研究"}}}
 ]
}
]
}
